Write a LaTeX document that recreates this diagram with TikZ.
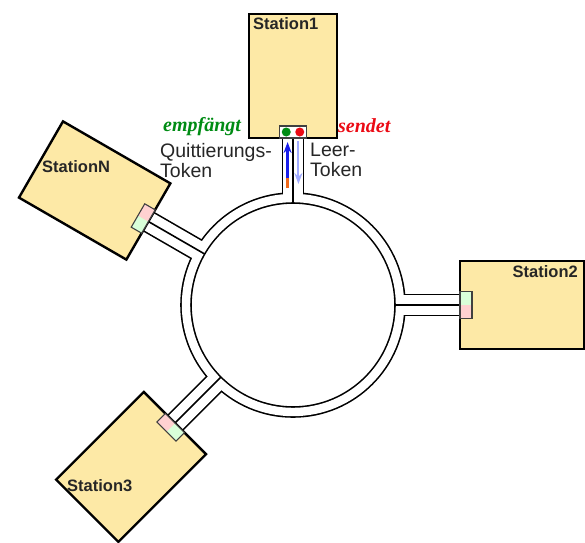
\documentclass[tikz,border=0pt]{standalone}
\usepackage{fontspec}
\setmainfont{Liberation Serif}
\setsansfont{Liberation Sans}
\usetikzlibrary{calc,arrows.meta,backgrounds}
\definecolor{stfill}{RGB}{253,233,166}
\definecolor{okgreen}{RGB}{0,140,20}
\definecolor{sendred}{RGB}{235,10,20}
\definecolor{qblue}{RGB}{25,30,235}
\definecolor{qorange}{RGB}{240,105,25}
\definecolor{leerblue}{RGB}{160,170,255}
\begin{document}
\begin{tikzpicture}[x=1pt,y=1pt,
  station/.style={draw,line width=2.4pt,fill=stfill,minimum width=88pt,minimum height=124pt,inner sep=0pt,outer sep=0pt},
  port/.style={minimum width=27pt,minimum height=12pt,inner sep=0pt,outer sep=0pt,anchor=south},
  stname/.style={font=\sffamily\bfseries\fontsize{16.5}{18}\selectfont,text=black!85,inner sep=0pt},
  tok/.style={font=\sffamily\fontsize{19.5}{20}\selectfont,text=black!85,align=left,inner sep=0pt,anchor=north west},
  act/.style={font=\rmfamily\bfseries\itshape\fontsize{20}{22}\selectfont,inner sep=0pt,anchor=base west}]
  \useasboundingbox (0,0) rectangle (585,542);
  \node[circle,minimum size=204pt,inner sep=0pt,outer sep=0pt] (hub) at (293,237) {};
  % stations round the ring, port faces the hub
  \foreach \n/\t/\r in {1/90/0,2/0/-90,N/150/60,3/225/135}{
    \node[station,rotate=\r] (st\n) at ($(hub.center)+(\t:229)$) {};
    \node[port,rotate=\r] (p\n) at (st\n.south) {};
  }
  \fill[white] (p1.north west) -- (p1.north east) -- (p1.south east) -- (p1.south west) -- cycle;
  \fill[okgreen] ($(p1.center)!0.5!(p1.west)$) circle (4.5);
  \fill[sendred] ($(p1.center)!0.5!(p1.east)$) circle (4.5);
  \foreach \n in {2,N,3}{
    \fill[green!15] (p\n.north west) -- (p\n.north) -- (p\n.south) -- (p\n.south west) -- cycle;
    \fill[red!18] (p\n.north) -- (p\n.north east) -- (p\n.south east) -- (p\n.south) -- cycle;
  }
  \foreach \n in {1,2,N,3}
    \draw[black!75,line width=1.1pt] (p\n.north west) -- (p\n.north east) -- (p\n.south east) -- (p\n.south west) -- cycle;
  % ring and lanes
  \begin{pgfonlayer}{background}
    \foreach \n/\t in {1/90,2/0,N/150,3/225}
      \draw[line width=22.6pt] ($(hub.center)!1.03!(hub.\t)$) -- (p\n.south);
    \draw[line width=11.6pt] (hub.center) circle (107);
    \foreach \n/\t in {1/90,2/0,N/150,3/225}
      \draw[white,line width=19.4pt] ($(hub.center)!1.049!(hub.\t)$) -- (p\n.south);
    \draw[white,line width=8.4pt] (hub.center) circle (107);
    \foreach \n/\t in {1/90,2/0,N/150,3/225}
      \draw[line width=1.6pt] (hub.\t) -- (p\n.south);
  \end{pgfonlayer}
  % tokens in the lanes of Station1
  \coordinate (qs) at ($(p1.south)+(-5.4,-50)$);
  \coordinate (qm) at ($(p1.south)+(-5.4,-40)$);
  \coordinate (qe) at ($(p1.south)+(-5.4,-4)$);
  \coordinate (ls) at ($(p1.south)+(5.4,-3)$);
  \coordinate (le) at ($(p1.south)+(5.4,-46)$);
  \draw[qorange,line width=3pt] (qs) -- (qm);
  \draw[qblue,line width=3pt,-{Stealth[length=11pt,width=8pt]}] (qm) -- (qe);
  \draw[leerblue,line width=2pt,-{Stealth[length=11pt,width=8pt,open]}] (ls) -- (le);
  % labels
  \node[stname,anchor=base west] (l1) at (253,512) {Station1};
  \node[stname,anchor=base east] (l2) at (578,265) {Station2};
  \node[stname,anchor=base west] (lN) at (42,370) {StationN};
  \node[stname,anchor=base west] (l3) at (67,51) {Station3};
  \node[act,okgreen] (rx) at (163,411) {empfängt};
  \node[act,sendred] (tx) at (338,410) {sendet};
  \node[tok] (qt) at (160,398.5) {Quittierungs-\\Token};
  \node[tok] (lt) at (310,399.5) {Leer-\\Token};
\end{tikzpicture}
\end{document}
